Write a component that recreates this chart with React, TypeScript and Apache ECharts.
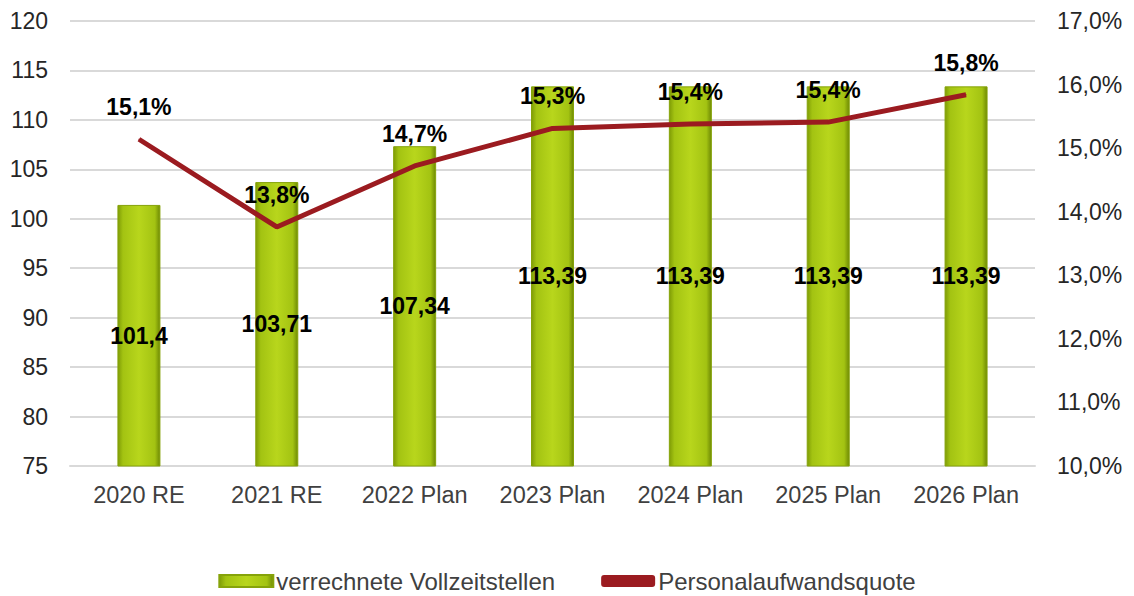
import React, { useEffect, useRef } from "react";
import * as echarts from "echarts";

const categories = ["2020 RE", "2021 RE", "2022 Plan", "2023 Plan", "2024 Plan", "2025 Plan", "2026 Plan"];
const vollzeitstellen = [101.4, 103.71, 107.34, 113.39, 113.39, 113.39, 113.39];
const personalquote = [15.14, 13.76, 14.72, 15.31, 15.38, 15.41, 15.84];
const barName = "verrechnete Vollzeitstellen";
const lineName = "Personalaufwandsquote";

const fmtComma = (v: number, d: number) => v.toFixed(d).replace(".", ",");

export default function App() {
  const ref = useRef<HTMLDivElement>(null);
  useEffect(() => {
    document.body.style.margin = "0";
    const chart = echarts.init(ref.current!, undefined, { renderer: "svg" });
    const font = "Liberation Sans, Arial, sans-serif";
    const barGrad = new echarts.graphic.LinearGradient(0, 0, 1, 0, [
      { offset: 0, color: "#7f9c06" },
      { offset: 0.12, color: "#a3c312" },
      { offset: 0.5, color: "#b8d61c" },
      { offset: 0.88, color: "#a3c312" },
      { offset: 1, color: "#6f8a04" },
    ]);
    chart.setOption({
      animation: false,
      backgroundColor: "#ffffff",
      textStyle: { fontFamily: font },
      grid: { left: 70, right: 99, top: 21, bottom: 130, containLabel: false },
      legend: {
        top: 569,
        left: "center",
        padding: 0,
        itemGap: 46,
        itemWidth: 54,
        itemHeight: 12,
        textStyle: { fontSize: 24, color: "#404040", fontFamily: font, padding: [0, 0, 0, -2] },
        data: [
          { name: barName, icon: "rect" },
          { name: lineName, icon: "roundRect", itemStyle: { color: "#9b1b20" } },
        ],
      },
      xAxis: {
        type: "category",
        data: categories,
        axisLine: { lineStyle: { color: "#d9d9d9", width: 2 } },
        axisTick: { show: false },
        axisLabel: { fontSize: 23.5, color: "#404040", margin: 17, fontFamily: font },
      },
      yAxis: [
        {
          type: "value",
          min: 75,
          max: 120,
          interval: 5,
          axisLine: { show: false },
          axisTick: { show: false },
          splitLine: { lineStyle: { color: "#d9d9d9", width: 2 } },
          axisLabel: { fontSize: 23, color: "#262626", margin: 22, fontFamily: font },
        },
        {
          type: "value",
          min: 10,
          max: 17,
          interval: 1,
          axisLine: { show: false },
          axisTick: { show: false },
          splitLine: { show: false },
          axisLabel: {
            fontSize: 23,
            color: "#262626",
            margin: 22,
            fontFamily: font,
            formatter: (v: number) => fmtComma(v, 1) + "%",
          },
        },
      ],
      series: [
        {
          name: barName,
          type: "bar",
          data: vollzeitstellen,
          barWidth: 43,
          itemStyle: { color: barGrad, borderColor: "#86a30a", borderWidth: 1 },
          label: {
            show: true,
            position: "inside",
            fontSize: 23,
            fontWeight: "bold",
            color: "#000000",
            fontFamily: font,
            formatter: (p: any) => String(p.value).replace(".", ","),
          },
        },
        {
          name: lineName,
          type: "line",
          yAxisIndex: 1,
          data: personalquote,
          symbol: "circle",
          symbolSize: 1,
          itemStyle: { color: "#9b1b20" },
          lineStyle: { color: "#9b1b20", width: 5 },
          label: {
            show: true,
            position: "top",
            distance: 20,
            fontSize: 23,
            fontWeight: "bold",
            color: "#000000",
            fontFamily: font,
            formatter: (p: any) => fmtComma(p.value, 1) + "%",
          },
        },
      ],
    });
    return () => chart.dispose();
  }, []);
  return <div ref={ref} style={{ width: 1134, height: 596 }} />;
}
